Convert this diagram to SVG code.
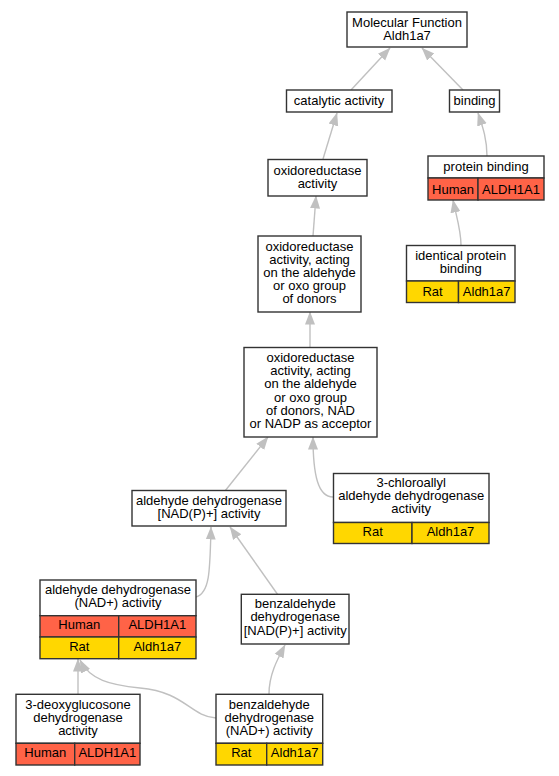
<svg xmlns="http://www.w3.org/2000/svg" width="559" height="776" viewBox="0 0 559 776">
<style>
text{font-family:"Liberation Sans",Arial,sans-serif;font-size:13px;fill:#000;text-anchor:middle}
.b{fill:#fff;stroke:#333;stroke-width:1.4}
.h{fill:#ff6347;stroke:#333;stroke-width:1.4}
.r{fill:#ffd700;stroke:#333;stroke-width:1.4}
.e{fill:none;stroke:#c0c0c0;stroke-width:1.4;marker-end:url(#a)}
</style>
<defs>
<marker id="a" viewBox="0 0 13 13" refX="12.5" refY="6.5" markerWidth="13" markerHeight="13" markerUnits="userSpaceOnUse" orient="auto">
<path d="M0,1.5 L13,6.5 L0,11.5 z" fill="#c0c0c0"/>
</marker>
</defs>
<rect width="559" height="776" fill="#fff"/>
<g id="edges">
<path class="e" d="M351,90 L390,48"/>
<path class="e" d="M463,90 L422,48"/>
<path class="e" d="M323,159 L337,113"/>
<path class="e" d="M487,156 C487,138 482,125 478,113"/>
<path class="e" d="M313,236 L316,196"/>
<path class="e" d="M461,245 C461,230 456,215 453,200"/>
<path class="e" d="M310,348 L310,312"/>
<path class="e" d="M225,491 L268,437"/>
<path class="e" d="M333,497 C318,497 313,475 313,437"/>
<path class="e" d="M196,597 C210,593 210,570 211,527"/>
<path class="e" d="M278,595 L230,527"/>
<path class="e" d="M78,694 L78,659"/>
<path class="e" d="M216,718 C190,716 185,692 140,688 C110,685 90,680 80,660"/>
<path class="e" d="M269,694 C269,675 277,660 285,645"/>
</g>
<g id="mf">
<rect class="b" x="347" y="12" width="120" height="35"/>
<text x="407" y="26.5">Molecular Function</text>
<text x="407" y="39.5">Aldh1a7</text>
</g>
<g id="catalytic">
<rect class="b" x="286.5" y="90" width="105.5" height="22"/>
<text x="339" y="105">catalytic activity</text>
</g>
<g id="binding">
<rect class="b" x="449.5" y="90" width="50" height="22"/>
<text x="474.5" y="105">binding</text>
</g>
<g id="oxred">
<rect class="b" x="268" y="159.5" width="99" height="36.5"/>
<text x="317.5" y="174.5">oxidoreductase</text>
<text x="317.5" y="187.5">activity</text>
</g>
<g id="protein">
<rect class="b" x="428" y="156" width="116" height="22"/>
<rect class="h" x="428" y="178" width="50" height="22"/>
<rect class="h" x="478" y="178" width="66" height="22"/>
<text x="486" y="171">protein binding</text>
<text x="453" y="193.5">Human</text>
<text x="511" y="193.5">ALDH1A1</text>
</g>
<g id="donors">
<rect class="b" x="258" y="236" width="103" height="76"/>
<text x="309.5" y="250.5">oxidoreductase</text>
<text x="309.5" y="263.7">activity, acting</text>
<text x="309.5" y="276.9">on the aldehyde</text>
<text x="309.5" y="290.1">or oxo group</text>
<text x="309.5" y="303.3">of donors</text>
</g>
<g id="identical">
<rect class="b" x="406.5" y="245.5" width="108.5" height="35.5"/>
<rect class="r" x="406.5" y="281" width="52" height="21.5"/>
<rect class="r" x="458.5" y="281" width="56.5" height="21.5"/>
<text x="460.7" y="260">identical protein</text>
<text x="460.7" y="273.3">binding</text>
<text x="432.5" y="296">Rat</text>
<text x="486.7" y="296">Aldh1a7</text>
</g>
<g id="nadp">
<rect class="b" x="244" y="347.5" width="133" height="89.5"/>
<text x="310.5" y="361.7">oxidoreductase</text>
<text x="310.5" y="375">activity, acting</text>
<text x="310.5" y="388.3">on the aldehyde</text>
<text x="310.5" y="401.6">or oxo group</text>
<text x="310.5" y="414.9">of donors, NAD</text>
<text x="310.5" y="428.2">or NADP as acceptor</text>
</g>
<g id="aldnadp">
<rect class="b" x="132" y="490.5" width="154" height="35.5"/>
<text x="209" y="505">aldehyde dehydrogenase</text>
<text x="209" y="518">[NAD(P)+] activity</text>
</g>
<g id="chloro">
<rect class="b" x="333.5" y="473.5" width="155.5" height="49"/>
<rect class="r" x="333.5" y="522.5" width="78.5" height="21"/>
<rect class="r" x="412" y="522.5" width="77" height="21"/>
<text x="411.2" y="486.7">3-chloroallyl</text>
<text x="411.2" y="500">aldehyde dehydrogenase</text>
<text x="411.2" y="513.3">activity</text>
<text x="372.7" y="536">Rat</text>
<text x="450.5" y="536">Aldh1a7</text>
</g>
<g id="aldnad">
<rect class="b" x="40" y="580" width="156" height="35.7"/>
<rect class="h" x="40" y="615.7" width="78.7" height="21.3"/>
<rect class="h" x="118.7" y="615.7" width="77.3" height="21.3"/>
<rect class="r" x="40" y="637" width="78.7" height="21.7"/>
<rect class="r" x="118.7" y="637" width="77.3" height="21.7"/>
<text x="118" y="594">aldehyde dehydrogenase</text>
<text x="118" y="607">(NAD+) activity</text>
<text x="79.3" y="628.5">Human</text>
<text x="157.3" y="628.5">ALDH1A1</text>
<text x="79.3" y="650.7">Rat</text>
<text x="157.3" y="650.7">Aldh1a7</text>
</g>
<g id="benznadp">
<rect class="b" x="241.3" y="594.3" width="107.7" height="49.7"/>
<text x="295.2" y="608">benzaldehyde</text>
<text x="295.2" y="621.3">dehydrogenase</text>
<text x="295.2" y="634.6">[NAD(P)+] activity</text>
</g>
<g id="deoxy">
<rect class="b" x="16" y="694.3" width="124" height="49"/>
<rect class="h" x="16" y="743.3" width="58.7" height="21.7"/>
<rect class="h" x="74.7" y="743.3" width="65.3" height="21.7"/>
<text x="78" y="708.7">3-deoxyglucosone</text>
<text x="78" y="722">dehydrogenase</text>
<text x="78" y="735.3">activity</text>
<text x="45.3" y="757">Human</text>
<text x="107.3" y="757">ALDH1A1</text>
</g>
<g id="benznad">
<rect class="b" x="216" y="694.3" width="106.7" height="49"/>
<rect class="r" x="216" y="743.3" width="50.7" height="21.7"/>
<rect class="r" x="266.7" y="743.3" width="56" height="21.7"/>
<text x="269.3" y="708.7">benzaldehyde</text>
<text x="269.3" y="722">dehydrogenase</text>
<text x="269.3" y="735.3">(NAD+) activity</text>
<text x="241.3" y="757">Rat</text>
<text x="294.7" y="757">Aldh1a7</text>
</g>
</svg>
